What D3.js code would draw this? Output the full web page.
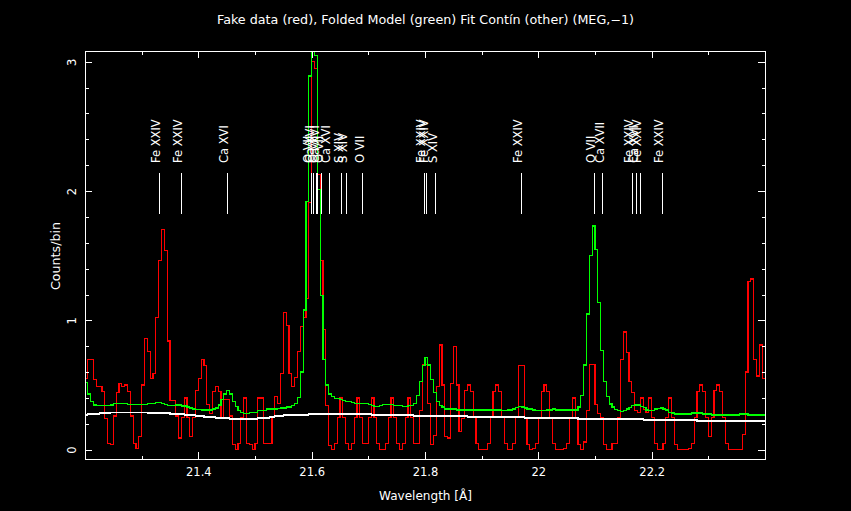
<!DOCTYPE html>
<html><head><meta charset="utf-8">
<script src="https://cdn.jsdelivr.net/npm/d3@7"></script>
<style>
html,body{margin:0;padding:0;background:#000;}
svg{display:block;}
text{font-family:"DejaVu Sans",sans-serif;fill:#fff;}
</style></head>
<body>
<svg id="chart" width="851" height="511"></svg>
<script>
// ---- data ----
const binStart = 21.2;
const binWidth = 0.005;
const xDomain = [21.2, 22.4];
const yDomain = [-0.072, 3.083];
const xMajorTicks = [21.4, 21.6, 21.8, 22.0, 22.2];
const xMinorTicks = [21.3, 21.5, 21.7, 21.9, 22.1, 22.3];
const yMajorTicks = [0, 1, 2, 3];
const yMinorTicks = [0.2,0.4,0.6,0.8,1.2,1.4,1.6,1.8,2.2,2.4,2.6,2.8];

const dataCounts = [
0.55,0.70,0.70,0.54,0.49,0.49,0.45,0.24,0.05,0.04,
0.26,0.44,0.51,0.49,0.50,0.45,0.26,0.05,0.01,0.10,
0.50,0.86,0.76,0.55,0.59,1.02,1.46,1.70,1.54,0.84,
0.38,0.38,0.26,0.09,0.25,0.40,0.25,0.10,0.25,0.46,
0.55,0.70,0.65,0.35,0.28,0.45,0.49,0.45,0.25,0.39,
0.39,0.26,0.04,0.00,0.05,0.25,0.40,0.05,0.04,0.00,
0.05,0.40,0.40,0.05,0.05,0.05,0.25,0.41,0.36,0.59,
1.06,0.96,0.59,0.49,0.56,0.76,0.95,1.02,1.17,1.91,
3.00,2.95,2.13,1.46,0.93,0.34,0.03,0.00,0.05,0.25,
0.40,0.25,0.05,0.00,0.05,0.25,0.40,0.25,0.05,0.05,
0.25,0.40,0.25,0.05,0.00,0.00,0.05,0.25,0.40,0.25,
0.05,0.00,0.05,0.25,0.40,0.25,0.05,0.05,0.30,0.66,
0.66,0.36,0.04,0.11,0.49,0.81,0.50,0.10,0.09,0.51,
0.80,0.50,0.14,0.24,0.46,0.50,0.45,0.25,0.05,0.00,
0.00,0.00,0.05,0.25,0.45,0.50,0.45,0.25,0.05,0.00,
0.00,0.05,0.25,0.65,0.65,0.25,0.04,0.00,0.01,0.05,
0.25,0.45,0.50,0.45,0.25,0.05,0.00,0.00,0.00,0.01,
0.05,0.25,0.40,0.25,0.04,0.00,0.06,0.30,0.66,0.66,
0.35,0.28,0.25,0.04,0.00,0.00,0.05,0.05,0.25,0.70,
0.91,0.75,0.53,0.44,0.30,0.29,0.40,0.31,0.29,0.40,
0.25,0.05,0.00,0.00,0.05,0.25,0.40,0.25,0.04,0.00,
0.00,0.00,0.00,0.01,0.05,0.25,0.45,0.50,0.45,0.25,
0.10,0.25,0.46,0.50,0.45,0.25,0.05,0.00,0.00,0.00,
0.00,0.00,0.12,0.60,1.30,1.32,0.70,0.57,0.81,0.55
];

const foldedModel = [
0.52,0.43,0.37,0.345,0.34,0.34,0.34,0.34,0.34,0.345,
0.355,0.36,0.36,0.36,0.36,0.35,0.35,0.348,0.348,0.348,
0.348,0.348,0.355,0.355,0.36,0.368,0.368,0.358,0.35,0.343,
0.34,0.34,0.345,0.345,0.338,0.338,0.33,0.322,0.314,0.31,
0.31,0.307,0.307,0.307,0.307,0.314,0.322,0.345,0.39,0.43,
0.46,0.43,0.37,0.335,0.30,0.29,0.28,0.28,0.29,0.29,
0.29,0.30,0.304,0.304,0.314,0.314,0.314,0.314,0.317,0.322,
0.322,0.33,0.33,0.34,0.355,0.405,0.60,1.08,1.92,2.89,
3.12,3.05,2.01,1.19,0.70,0.50,0.43,0.41,0.394,0.394,
0.387,0.38,0.374,0.37,0.366,0.36,0.36,0.36,0.356,0.356,
0.348,0.34,0.335,0.335,0.34,0.348,0.348,0.348,0.348,0.34,
0.34,0.34,0.335,0.335,0.34,0.34,0.36,0.42,0.53,0.65,
0.71,0.655,0.54,0.44,0.37,0.343,0.33,0.314,0.314,0.314,
0.314,0.307,0.307,0.307,0.307,0.307,0.307,0.307,0.307,0.307,
0.307,0.307,0.307,0.307,0.307,0.307,0.307,0.30,0.30,0.307,
0.307,0.314,0.327,0.337,0.33,0.322,0.314,0.314,0.307,0.30,
0.30,0.30,0.30,0.307,0.307,0.314,0.307,0.307,0.307,0.307,
0.307,0.307,0.307,0.307,0.33,0.42,0.655,1.05,1.50,1.73,
1.55,1.14,0.77,0.53,0.41,0.353,0.33,0.31,0.30,0.294,
0.304,0.314,0.327,0.343,0.345,0.345,0.337,0.327,0.307,0.30,
0.30,0.314,0.32,0.322,0.314,0.307,0.29,0.283,0.276,0.276,
0.276,0.276,0.276,0.276,0.283,0.283,0.283,0.283,0.276,0.276,
0.276,0.268,0.268,0.268,0.268,0.268,0.268,0.268,0.268,0.268,
0.268,0.276,0.276,0.276,0.268,0.268,0.268,0.268,0.268,0.268
];

const continuum = [
0.268,0.276,0.276,0.276,0.276,0.283,0.283,0.283,0.283,0.29,
0.29,0.29,0.29,0.29,0.29,0.29,0.29,0.29,0.29,0.29,
0.29,0.29,0.283,0.283,0.283,0.283,0.283,0.283,0.283,0.283,
0.276,0.276,0.276,0.276,0.276,0.268,0.268,0.268,0.268,0.26,
0.26,0.26,0.253,0.253,0.253,0.253,0.245,0.245,0.245,0.245,
0.245,0.237,0.237,0.237,0.237,0.237,0.237,0.237,0.237,0.237,
0.237,0.245,0.245,0.245,0.245,0.253,0.253,0.26,0.26,0.26,
0.268,0.268,0.268,0.268,0.268,0.268,0.268,0.268,0.268,0.276,
0.276,0.276,0.276,0.276,0.276,0.276,0.276,0.276,0.276,0.276,
0.276,0.276,0.276,0.276,0.276,0.276,0.276,0.276,0.276,0.276,
0.276,0.268,0.268,0.268,0.268,0.268,0.268,0.268,0.268,0.268,
0.268,0.268,0.268,0.268,0.268,0.268,0.26,0.26,0.26,0.26,
0.26,0.26,0.26,0.26,0.26,0.26,0.26,0.26,0.26,0.26,
0.26,0.26,0.26,0.26,0.26,0.253,0.253,0.253,0.253,0.253,
0.253,0.253,0.253,0.253,0.253,0.253,0.253,0.253,0.253,0.253,
0.253,0.253,0.253,0.253,0.253,0.245,0.245,0.245,0.245,0.245,
0.245,0.245,0.245,0.245,0.245,0.245,0.245,0.245,0.245,0.245,
0.245,0.245,0.245,0.245,0.237,0.237,0.237,0.237,0.237,0.237,
0.237,0.237,0.237,0.237,0.237,0.237,0.237,0.237,0.237,0.237,
0.237,0.237,0.237,0.237,0.237,0.237,0.237,0.23,0.23,0.23,
0.23,0.23,0.23,0.23,0.23,0.23,0.23,0.23,0.23,0.23,
0.23,0.23,0.23,0.23,0.23,0.23,0.222,0.222,0.222,0.222,
0.222,0.222,0.222,0.222,0.222,0.222,0.222,0.222,0.222,0.222,
0.222,0.222,0.222,0.222,0.222,0.222,0.222,0.222,0.222,0.222
];

const lineWaves = [21.331,21.370,21.451,21.599,21.603,21.608,21.611,21.618,21.631,21.653,21.661,21.690,
                   21.799,21.803,21.819,21.970,22.099,22.114,22.166,22.174,22.180,22.219];
const lineNames = ["Fe XXIV","Fe XXIV","Ca XVI","O VII","Ca XVI","O VII","Ca XVI","O VII","Ca XVI","S XIV","S XIV","O VII",
                   "Fe XXIV","Fe XXIV","S XIV","Fe XXIV","O VII","Ca XVII","Fe XXIV","Ca XVI","Fe XXIV","Fe XXIV"];

const titleText = "Fake data (red), Folded Model (green) Fit Contín (other) (MEG,\u22121)";
const xLabel = "Wavelength [\u00C5]";
const yLabel = "Counts/bin";

// ---- layout ----
const W = 851, H = 511;
const L = 85, R = 765, T = 51, B = 459;

const svg = d3.select("#chart");
svg.append("rect").attr("width", W).attr("height", H).attr("fill", "#000");

const x = d3.scaleLinear().domain(xDomain).range([L, R]);
const y = d3.scaleLinear().domain(yDomain).range([B, T]);

svg.append("clipPath").attr("id", "clip")
  .append("rect").attr("x", L).attr("y", T).attr("width", R - L).attr("height", B - T);

function stepPoints(vals) {
  const pts = vals.map((v, i) => [binStart + i * binWidth, v]);
  pts.push([binStart + vals.length * binWidth, vals[vals.length - 1]]);
  return pts;
}
const line = d3.line().x(d => x(d[0])).y(d => y(d[1])).curve(d3.curveStepAfter);

const plot = svg.append("g").attr("clip-path", "url(#clip)");
[[dataCounts, "#ff0000"], [foldedModel, "#00ff00"], [continuum, "#ffffff"]].forEach(([vals, col]) => {
  plot.append("path").datum(stepPoints(vals))
    .attr("d", line).attr("fill", "none").attr("stroke", col)
    .attr("stroke-width", 1.2).attr("shape-rendering", "crispEdges");
});

// line identifications
const lbl = svg.append("g");
lineWaves.forEach((w, i) => {
  const px = x(w);
  lbl.append("line").attr("x1", px).attr("x2", px).attr("y1", 173).attr("y2", 214)
    .attr("stroke", "#fff").attr("stroke-width", 1).attr("shape-rendering", "crispEdges");
  lbl.append("text").attr("transform", `translate(${px + 1},163) rotate(-90)`)
    .attr("font-size", 11.5).attr("text-anchor", "start").text(lineNames[i]);
});

// axes
const fmt = d => String(+d.toFixed(1));
const axB = svg.append("g").attr("transform", `translate(0,${B})`)
  .call(d3.axisBottom(x).tickValues(xMajorTicks).tickSizeInner(-7).tickSizeOuter(0).tickPadding(9).tickFormat(fmt));
const axBm = svg.append("g").attr("transform", `translate(0,${B})`)
  .call(d3.axisBottom(x).tickValues(xMinorTicks).tickSizeInner(-3.5).tickSizeOuter(0).tickFormat(""));
const axT = svg.append("g").attr("transform", `translate(0,${T})`)
  .call(d3.axisTop(x).tickValues(xMajorTicks).tickSizeInner(-7).tickSizeOuter(0).tickFormat(""));
const axTm = svg.append("g").attr("transform", `translate(0,${T})`)
  .call(d3.axisTop(x).tickValues(xMinorTicks).tickSizeInner(-3.5).tickSizeOuter(0).tickFormat(""));
const axL = svg.append("g").attr("transform", `translate(${L},0)`)
  .call(d3.axisLeft(y).tickValues(yMajorTicks).tickSizeInner(-7).tickSizeOuter(0).tickFormat(d3.format("d")));
const axLm = svg.append("g").attr("transform", `translate(${L},0)`)
  .call(d3.axisLeft(y).tickValues(yMinorTicks).tickSizeInner(-3.5).tickSizeOuter(0).tickFormat(""));
const axR = svg.append("g").attr("transform", `translate(${R},0)`)
  .call(d3.axisRight(y).tickValues(yMajorTicks).tickSizeInner(-7).tickSizeOuter(0).tickFormat(""));
const axRm = svg.append("g").attr("transform", `translate(${R},0)`)
  .call(d3.axisRight(y).tickValues(yMinorTicks).tickSizeInner(-3.5).tickSizeOuter(0).tickFormat(""));

[axB, axBm, axT, axTm, axL, axLm, axR, axRm].forEach(g => {
  g.select(".domain").remove();
  g.selectAll("line").attr("stroke", "#fff").attr("shape-rendering", "crispEdges");
  g.selectAll("text").attr("fill", "#fff").attr("font-size", 11.5).attr("font-family", "DejaVu Sans");
});
axL.selectAll("text").attr("x", null).attr("dy", null)
  .attr("text-anchor", "middle").attr("transform", "translate(-9,0) rotate(-90)");

// frame
svg.append("rect").attr("x", L).attr("y", T).attr("width", R - L).attr("height", B - T)
  .attr("fill", "none").attr("stroke", "#fff").attr("stroke-width", 1).attr("shape-rendering", "crispEdges");

// titles
svg.append("text").attr("x", 217).attr("y", 24).attr("text-anchor", "start")
  .attr("font-size", 12).attr("textLength", 417).attr("lengthAdjust", "spacingAndGlyphs").text(titleText);
svg.append("text").attr("x", 379).attr("y", 500).attr("text-anchor", "start")
  .attr("font-size", 12).attr("textLength", 93).attr("lengthAdjust", "spacingAndGlyphs").text(xLabel);
svg.append("text").attr("transform", "translate(60,290) rotate(-90)").attr("text-anchor", "start")
  .attr("font-size", 12).attr("textLength", 68).attr("lengthAdjust", "spacingAndGlyphs").text(yLabel);
</script>
</body></html>
